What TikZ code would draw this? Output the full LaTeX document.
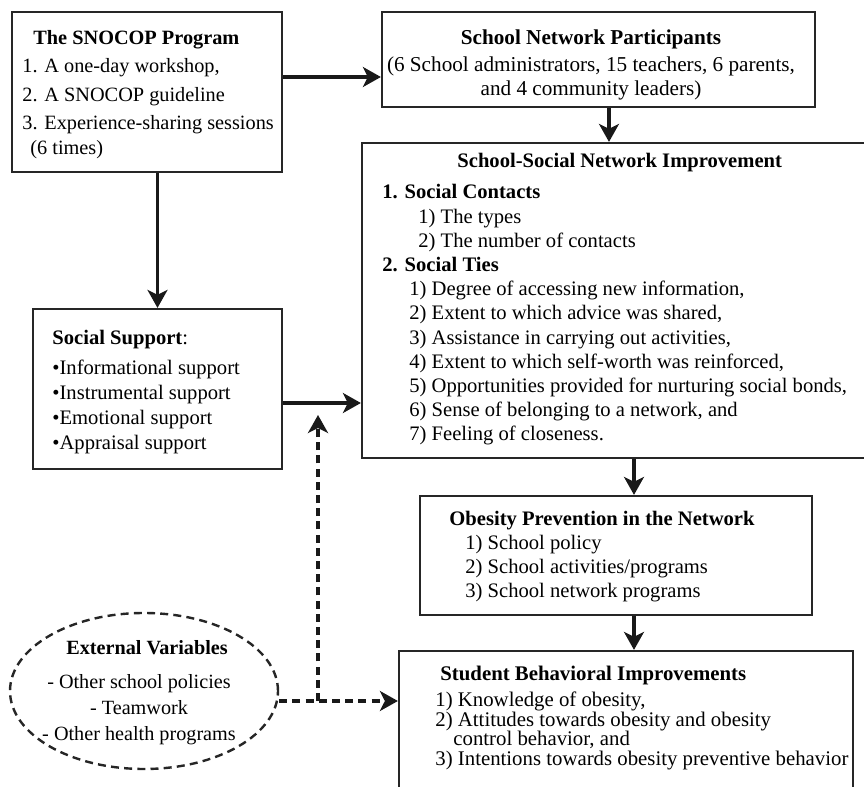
\documentclass[tikz,border=0pt]{standalone}
\usepackage{fontspec}
\setmainfont{Liberation Serif}
\usetikzlibrary{arrows.meta,shapes.geometric}

\begin{document}
\begin{tikzpicture}[x=0.5pt,y=-0.5pt]

% Stili
\tikzset{
  box/.style={draw=black!85, line width=1.1pt, inner sep=0pt},
  txt/.style={inner sep=0pt, anchor=north west, align=left},
  arr/.style={draw=black!90, line width=1.6pt, -{Stealth[length=9pt,width=10pt,inset=2.5pt]}},
  dasharr/.style={arr, dash pattern=on 4pt off 2.6pt}
}

% Area visibile
\clip (0,0) rectangle (864,787);

% Riquadri
\node[box, minimum width=135pt, minimum height=80pt] (snocop) at (147,92) {};
\node[box, minimum width=216.5pt, minimum height=47.5pt] (parts) at (598.5,59.5) {};
\node[box, minimum width=269pt, minimum height=157.5pt] (network) at (631,300.5) {};
\node[box, minimum width=124.5pt, minimum height=80pt] (support) at (157.5,389) {};
\node[box, minimum width=196pt, minimum height=59.5pt] (prev) at (616,555.5) {};
\node[box, minimum width=227pt, minimum height=84.5pt] (student) at (626,735.5) {};
\node[ellipse, draw=black!85, line width=1.2pt, dash pattern=on 4pt off 2.6pt,
      minimum width=134pt, minimum height=78pt, inner sep=0pt] (ext) at (144,691) {};

% Testi
\node[txt, font=\fontsize{10.15}{14.2}\selectfont] (snocoptxt) at (22,30)
  {\hspace*{5.5pt}\textbf{The SNOCOP Program}\\
   1. A one-day workshop,\\
   2. A SNOCOP guideline\\
   3. Experience-sharing sessions\\[-2pt]
   \hspace*{4pt}(6 times)};

\node[txt, anchor=north, align=center, font=\fontsize{10.6}{12}\selectfont] (partstxt) at (591,29)
  {\textbf{School Network Participants}\\[1.5pt]
   (6 School administrators, 15 teachers, 6 parents,\\
   and 4 community leaders)};

\node[txt, font=\fontsize{10.3}{12.1}\selectfont] (networktxt) at (382,153)
  {\hspace*{37.5pt}\textbf{School-Social Network Improvement}\\[3.5pt]
   \textbf{1. Social Contacts}\\
   \hspace*{18pt}1) The types\\
   \hspace*{18pt}2) The number of contacts\\
   \textbf{2. Social Ties}\\
   \hspace*{13.5pt}1) Degree of accessing new information,\\
   \hspace*{13.5pt}2) Extent to which advice was shared,\\
   \hspace*{13.5pt}3) Assistance in carrying out activities,\\
   \hspace*{13.5pt}4) Extent to which self-worth was reinforced,\\
   \hspace*{13.5pt}5) Opportunities provided for nurturing social bonds,\\
   \hspace*{13.5pt}6) Sense of belonging to a network, and\\
   \hspace*{13.5pt}7) Feeling of closeness.};

\node[txt, font=\fontsize{10.3}{12.5}\selectfont] (supporttxt) at (52,330)
  {\textbf{Social Support}:\\[2.5pt]
   •Informational support\\
   •Instrumental support\\
   •Emotional support\\
   •Appraisal support};

\node[txt, font=\fontsize{10.3}{12}\selectfont] (prevtxt) at (449,511)
  {\textbf{Obesity Prevention in the Network}\\
   \hspace*{8pt}1) School policy\\
   \hspace*{8pt}2) School activities/programs\\
   \hspace*{8pt}3) School network programs};

\node[txt, font=\fontsize{10.4}{9.8}\selectfont] (studenttxt) at (435,666)
  {\hspace*{2.5pt}\textbf{Student Behavioral Improvements}\\[3pt]
   1) Knowledge of obesity,\\
   2) Attitudes towards obesity and obesity\\
   \hspace*{9pt}control behavior, and\\
   3) Intentions towards obesity preventive behavior};

\node[txt, anchor=center, align=center, font=\fontsize{10.1}{13}\selectfont] (exttxt) at (139,692.5)
  {\hspace*{8pt}\textbf{External Variables}\\[4pt]
   - Other school policies\\
   - Teamwork\\
   - Other health programs};

% Frecce
\draw[arr] ([yshift=7.5pt]snocop.east) -- ([yshift=7.5pt]snocop.east -| parts.west);
\draw[arr] ([xshift=5.25pt]parts.south) -- ([xshift=5.25pt]parts.south |- network.north);
\draw[arr] (support.north |- snocop.south) -- (support.north);
\draw[arr] ([yshift=-7pt]support.east) -- ([yshift=-7pt]support.east -| network.west);
\draw[arr] ([xshift=9pt]prev.north |- network.south) -- ([xshift=9pt]prev.north);
\draw[arr] ([xshift=9pt]prev.south) -- ([xshift=9pt]prev.south |- student.north);

% Variabili esterne (tratteggiate)
\coordinate (dj) at (318,701);
\coordinate (dtop) at (318,415);
\draw[dasharr] (ext.east |- dj) -- (student.west |- dj);
\draw[dasharr] (dj) -- (dtop);

\end{tikzpicture}
\end{document}
